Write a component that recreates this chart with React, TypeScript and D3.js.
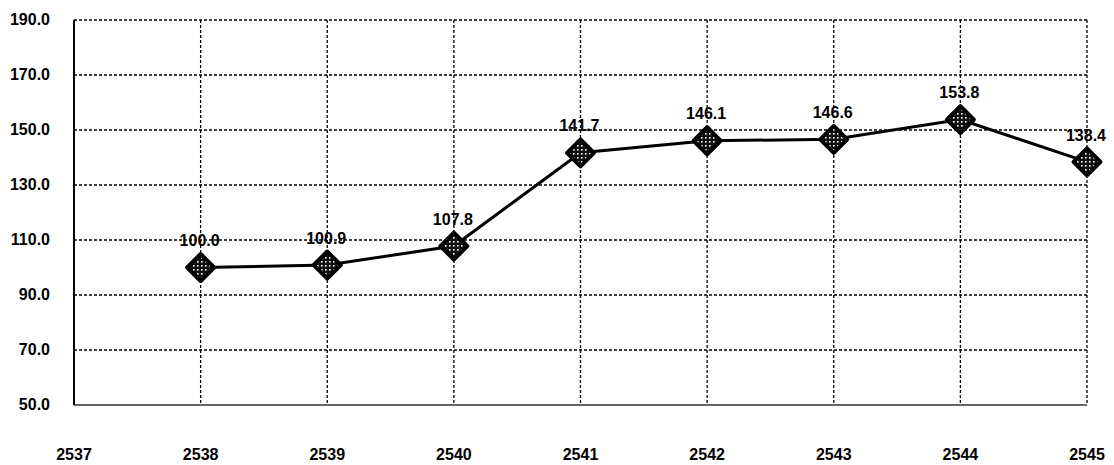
import React from "react";
import * as d3 from "d3";

const years = ["2537", "2538", "2539", "2540", "2541", "2542", "2543", "2544", "2545"];
const pointYears = ["2538", "2539", "2540", "2541", "2542", "2543", "2544", "2545"];
const values = [100.0, 100.9, 107.8, 141.7, 146.1, 146.6, 153.8, 138.4];
const yTicks = [50, 70, 90, 110, 130, 150, 170, 190];

const W = 1114;
const H = 465;
const left = 74;
const right = 1087;
const top = 20;
const bottom = 405;

export default function App() {
  const x = d3.scalePoint<string>().domain(years).range([left, right]);
  const y = d3.scaleLinear().domain([50, 190]).range([bottom, top]);
  const pts = pointYears.map((yr, i) => ({ yr, v: values[i] }));
  const line = d3
    .line<{ yr: string; v: number }>()
    .x((d) => x(d.yr) as number)
    .y((d) => y(d.v));
  const font = "'Liberation Sans', Arial, sans-serif";
  const fs = 16;
  const r = 13.5;
  return (
    <svg width={W} height={H} style={{ position: "absolute", left: 0, top: 0, background: "#fff" }}>
      <defs>
        <pattern id="dots" width="4" height="4" patternUnits="userSpaceOnUse">
          <rect width="4" height="4" fill="#111" />
          <rect x="1" y="1" width="1.6" height="1.6" fill="#fff" />
        </pattern>
      </defs>
      <rect x={0} y={0} width={W} height={H} fill="#fff" />
      {yTicks.filter((t) => t > 50).map((t) => (
        <line key={"h" + t} x1={left} x2={right} y1={y(t)} y2={y(t)} stroke="#000" strokeWidth={1.3} strokeDasharray="3,2" />
      ))}
      {years.slice(1).map((yr) => (
        <line key={"v" + yr} x1={x(yr)} x2={x(yr)} y1={top} y2={bottom} stroke="#000" strokeWidth={1.3} strokeDasharray="3,2" />
      ))}
      <line x1={left} x2={right} y1={bottom} y2={bottom} stroke="#333" strokeWidth={1.5} />
      <line x1={left} x2={left} y1={top} y2={bottom} stroke="#000" strokeWidth={2} />
      {yTicks.map((t) => (
        <text key={"yl" + t} x={50} y={y(t) - 1} dy="0.35em" textAnchor="end" fontFamily={font} fontWeight="bold" fontSize={fs} fill="#000">
          {t.toFixed(1)}
        </text>
      ))}
      {years.map((yr) => (
        <text key={"xl" + yr} x={x(yr)} y={454} dy="0.35em" textAnchor="middle" fontFamily={font} fontWeight="bold" fontSize={fs} fill="#000">
          {yr}
        </text>
      ))}
      <path d={line(pts) || ""} fill="none" stroke="#000" strokeWidth={3} />
      {pts.map((d) => {
        const cx = x(d.yr) as number;
        const cy = y(d.v);
        return (
          <path
            key={"m" + d.yr}
            d={`M${cx},${cy - r}L${cx + r},${cy}L${cx},${cy + r}L${cx - r},${cy}Z`}
            fill="url(#dots)"
            stroke="#000"
            strokeWidth={4}
            strokeLinejoin="round"
          />
        );
      })}
      {pts.map((d) => (
        <text key={"dl" + d.yr} x={(x(d.yr) as number) - 1} y={y(d.v) - 27} dy="0.35em" textAnchor="middle" fontFamily={font} fontWeight="bold" fontSize={fs} fill="#000">
          {d.v.toFixed(1)}
        </text>
      ))}
    </svg>
  );
}
